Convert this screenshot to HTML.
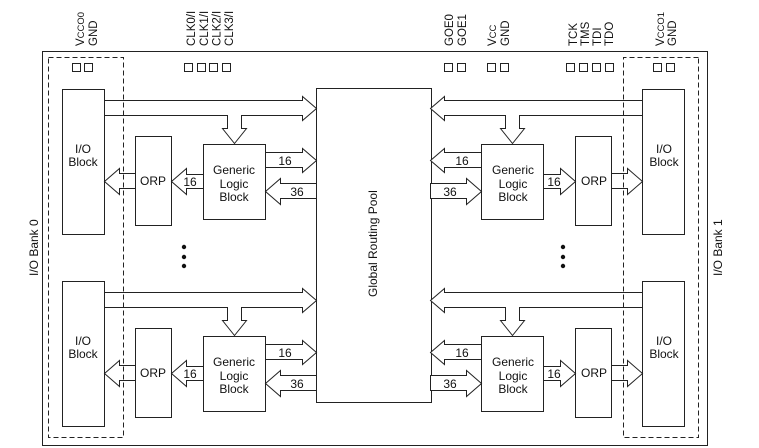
<!DOCTYPE html>
<html><head><meta charset="utf-8"><style>
html,body{margin:0;padding:0;background:#fff;}
svg{display:block;}
text{font-family:"Liberation Sans",Arial,sans-serif;fill:#111;}
</style></head><body>
<svg width="759" height="448" viewBox="0 0 759 448" xmlns="http://www.w3.org/2000/svg">
<defs>
<g id="sec" fill="#fff" stroke="#222" stroke-width="1">
  <rect x="62.5" y="89.5" width="42" height="145"/>
  <rect x="135.5" y="136.5" width="36" height="89"/>
  <rect x="203.5" y="144.5" width="62" height="75"/>
  <polygon points="104.5,100.5 302.5,100.5 302.5,96.5 316.5,108.5 302.5,120.5 302.5,115.5 241.5,115.5 241.5,128.5 246.5,128.5 234.5,143.5 222.5,128.5 227.5,128.5 227.5,115.5 104.5,115.5"/>
  <polygon points="265.5,152.5 302.5,152.5 302.5,148.5 316.5,160.5 302.5,172.5 302.5,167.5 265.5,167.5"/>
  <polygon points="316.5,183.5 280.5,183.5 280.5,178.5 265.5,191.5 280.5,204.5 280.5,198.5 316.5,198.5"/>
  <polygon points="203.5,174.5 186.5,174.5 186.5,168.5 171.5,181.5 186.5,194.5 186.5,188.5 203.5,188.5"/>
  <polygon points="135.5,173.5 119.5,173.5 119.5,168.5 104.5,181.5 119.5,194.5 119.5,188.5 135.5,188.5"/>
</g>
<g id="half">
  <use href="#sec"/>
  <use href="#sec" transform="translate(0,192)"/>
  <rect x="48.5" y="57.5" width="75" height="380" fill="none" stroke="#222" stroke-dasharray="5,3"/>
  <circle cx="184" cy="247" r="2.2" fill="#111"/>
  <circle cx="184" cy="257" r="2.2" fill="#111"/>
  <circle cx="184" cy="266" r="2.2" fill="#111"/>
</g>
</defs>
<rect x="42.5" y="51.5" width="665" height="394" fill="#fff" stroke="#222"/>
<rect x="316.5" y="88.5" width="115" height="314" fill="#fff" stroke="#222"/>
<use href="#half"/>
<use href="#half" transform="translate(747,0) scale(-1,1)"/>
<g fill="#fff" stroke="#222">
<rect x="72.5" y="63.5" width="8" height="8"/><rect x="84.5" y="63.5" width="8" height="8"/>
<rect x="184.5" y="63.5" width="8" height="8"/><rect x="197.5" y="63.5" width="8" height="8"/><rect x="209.5" y="63.5" width="8" height="8"/><rect x="222.5" y="63.5" width="8" height="8"/>
<rect x="444.5" y="63.5" width="8" height="8"/><rect x="457.5" y="63.5" width="8" height="8"/>
<rect x="487.5" y="63.5" width="8" height="8"/><rect x="500.5" y="63.5" width="8" height="8"/>
<rect x="566.5" y="63.5" width="8" height="8"/><rect x="579.5" y="63.5" width="8" height="8"/><rect x="592.5" y="63.5" width="8" height="8"/><rect x="605.5" y="63.5" width="8" height="8"/>
<rect x="653.5" y="63.5" width="8" height="8"/><rect x="666.5" y="63.5" width="8" height="8"/>
</g>
<g font-size="11.5">
<text transform="translate(84,46) rotate(-90)">V<tspan font-size="9.5">CCO0</tspan></text>
<text transform="translate(97,46) rotate(-90)">GND</text>
<text transform="translate(195,46) rotate(-90)">CLK0/I</text>
<text transform="translate(208,46) rotate(-90)">CLK1/I</text>
<text transform="translate(220.5,46) rotate(-90)">CLK2/I</text>
<text transform="translate(233,46) rotate(-90)">CLK3/I</text>
<text transform="translate(453,46) rotate(-90)">GOE0</text>
<text transform="translate(466,46) rotate(-90)">GOE1</text>
<text transform="translate(496,46) rotate(-90)">V<tspan font-size="9.5">CC</tspan></text>
<text transform="translate(509,46) rotate(-90)">GND</text>
<text transform="translate(577,46) rotate(-90)">TCK</text>
<text transform="translate(589,46) rotate(-90)">TMS</text>
<text transform="translate(601,46) rotate(-90)">TDI</text>
<text transform="translate(613,46) rotate(-90)">TDO</text>
<text transform="translate(664,46) rotate(-90)">V<tspan font-size="9.5">CCO1</tspan></text>
<text transform="translate(676,46) rotate(-90)">GND</text>
<text font-size="12" transform="translate(38,276) rotate(-90)">I/O Bank 0</text>
<text font-size="12" transform="translate(722,276) rotate(-90)">I/O Bank 1</text>
<text font-size="12" transform="translate(377,297) rotate(-90)">Global Routing Pool</text>
</g>
<g font-size="12" text-anchor="middle">
<text x="83" y="153">I/O</text><text x="83" y="166">Block</text>
<text x="153" y="185">ORP</text>
<text x="234" y="174">Generic</text><text x="234" y="188">Logic</text><text x="234" y="201">Block</text>
<text x="285" y="165">16</text><text x="297" y="196">36</text><text x="190" y="186">16</text>
<text x="664" y="153">I/O</text><text x="664" y="166">Block</text>
<text x="594" y="185">ORP</text>
<text x="513" y="174">Generic</text><text x="513" y="188">Logic</text><text x="513" y="201">Block</text>
<text x="462" y="165">16</text><text x="450" y="196">36</text><text x="554" y="186">16</text>
</g>
<g font-size="12" text-anchor="middle" transform="translate(0,192)">
<text x="83" y="153">I/O</text><text x="83" y="166">Block</text>
<text x="153" y="185">ORP</text>
<text x="234" y="174">Generic</text><text x="234" y="188">Logic</text><text x="234" y="201">Block</text>
<text x="285" y="165">16</text><text x="297" y="196">36</text><text x="190" y="186">16</text>
<text x="664" y="153">I/O</text><text x="664" y="166">Block</text>
<text x="594" y="185">ORP</text>
<text x="513" y="174">Generic</text><text x="513" y="188">Logic</text><text x="513" y="201">Block</text>
<text x="462" y="165">16</text><text x="450" y="196">36</text><text x="554" y="186">16</text>
</g>
</svg>
</body></html>
